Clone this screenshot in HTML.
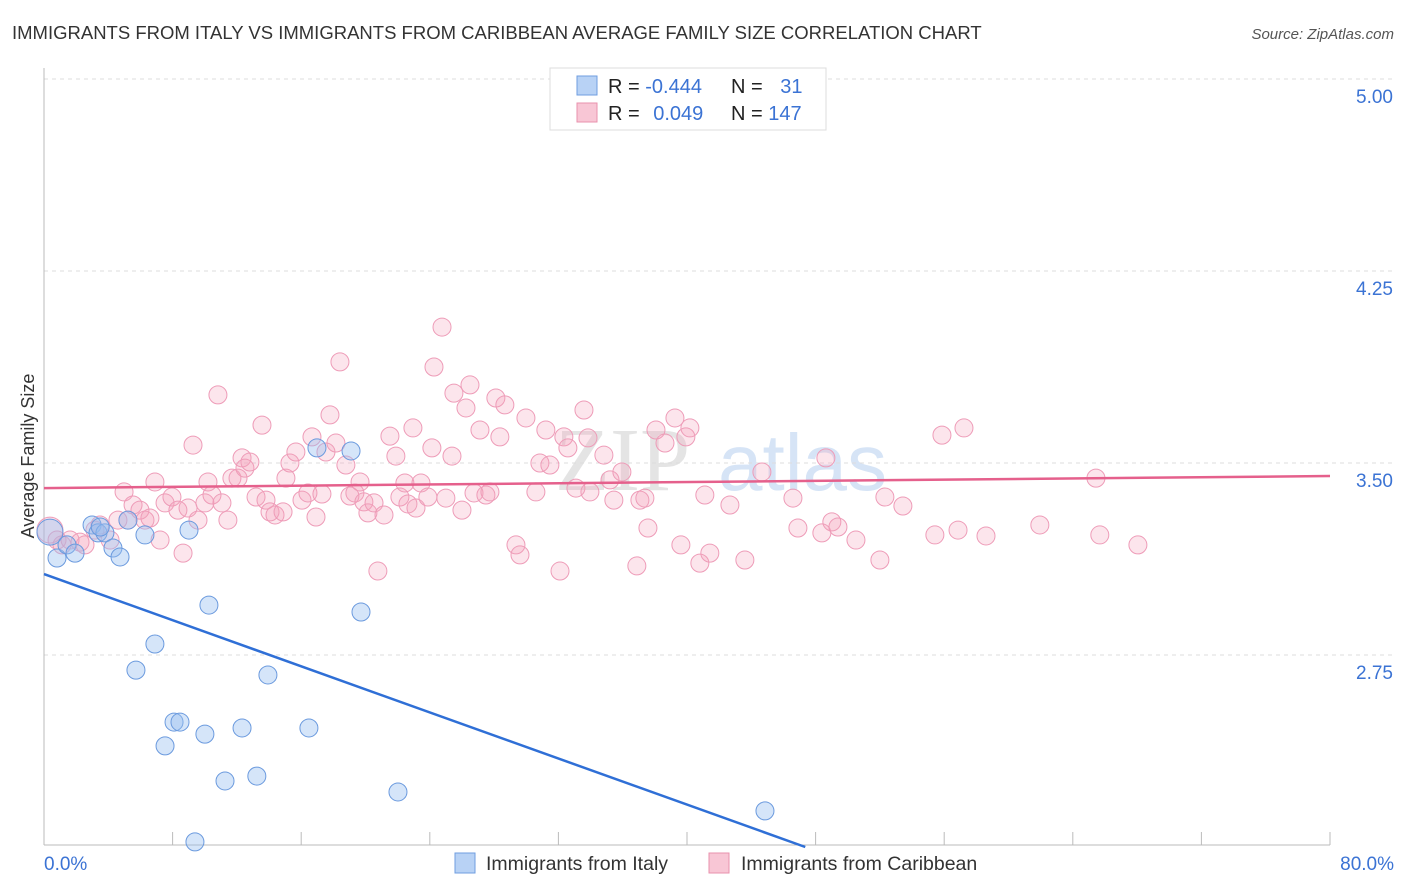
<!DOCTYPE html>
<html><head><meta charset="utf-8"><style>
body{margin:0;background:#fff;font-family:"Liberation Sans",sans-serif;}
svg{display:block}
</style></head><body>
<svg id="chart" width="1406" height="892" xmlns="http://www.w3.org/2000/svg" font-family="Liberation Sans, sans-serif">
<text x="12" y="39" font-size="18.5" fill="#333">IMMIGRANTS FROM ITALY VS IMMIGRANTS FROM CARIBBEAN AVERAGE FAMILY SIZE CORRELATION CHART</text>
<text x="1394" y="39" font-size="15" fill="#555" font-style="italic" text-anchor="end">Source: ZipAtlas.com</text>
<g>
<text x="555" y="490" font-size="90" font-family="Liberation Serif, serif" fill="#e4e4e4">ZIP</text>
<text x="718" y="490" font-size="80" fill="#d6e4f6">atlas</text>
</g>
<g id="grid"></g>
<g id="axes"></g>
<g id="pts"></g>
<g id="trends"></g>
<text transform="translate(34,456) rotate(-90)" font-size="18" fill="#333" text-anchor="middle">Average Family Size</text>
<g>
<rect x="550" y="68" width="276" height="62" fill="#fff" stroke="#ddd"/>
<rect x="577" y="76" width="20" height="19" fill="#b8d2f5" stroke="#6f9ee0"/>
<rect x="577" y="103" width="20" height="19" fill="#f8c6d5" stroke="#e991ad"/>
<text x="608" y="93" font-size="20" fill="#222">R = <tspan fill="#3b73d4">-0.444</tspan></text>
<text x="731" y="93" font-size="20" fill="#222">N = <tspan fill="#3b73d4" dx="12">31</tspan></text>
<text x="608" y="120" font-size="20" fill="#222">R = <tspan fill="#3b73d4" dx="8">0.049</tspan></text>
<text x="731" y="120" font-size="20" fill="#222">N = <tspan fill="#3b73d4">147</tspan></text>
</g>
<g>
<rect x="455" y="853" width="20" height="20" fill="#b8d2f5" stroke="#6f9ee0"/>
<text x="486" y="870" font-size="19.5" fill="#333">Immigrants from Italy</text>
<rect x="709" y="853" width="20" height="20" fill="#f8c6d5" stroke="#e991ad"/>
<text x="741" y="870" font-size="19.5" fill="#333">Immigrants from Caribbean</text>
</g>
</svg>
<script>
const yTicks=[2.75,3.50,4.25,5.00];
const yTickLabels=["2.75","3.50","4.25","5.00"];
const xTickLabels=["0.0%","80.0%"];
const pinkX=[0.37,0.81,1.12,1.62,2.24,2.55,3.17,3.48,4.11,4.60,4.98,5.22,5.54,5.97,6.28,6.59,6.90,7.22,7.53,7.96,8.33,8.65,8.96,9.27,9.58,10.01,10.20,10.45,10.82,11.07,11.44,11.69,12.07,12.32,12.50,12.81,13.19,13.56,13.81,14.06,14.37,14.87,15.05,15.30,15.67,16.05,16.42,16.67,16.92,17.29,17.54,17.79,18.16,18.41,18.78,19.03,19.34,19.66,19.90,20.15,20.53,20.77,21.15,21.52,21.89,22.14,22.45,22.64,22.95,23.14,23.45,23.88,24.13,24.26,24.76,25.00,25.38,25.50,26.00,26.25,26.50,26.75,27.12,27.49,27.74,28.11,28.36,28.67,29.36,29.61,29.98,30.60,30.85,31.22,31.47,32.10,32.34,32.59,33.09,33.59,33.84,33.96,34.83,35.21,35.45,35.95,36.88,37.07,37.38,37.57,38.07,38.63,39.25,39.62,39.93,40.18,40.80,41.11,41.42,42.67,43.60,44.66,46.59,46.90,48.39,48.64,49.01,49.39,50.51,52.00,52.31,53.43,55.42,55.86,56.86,57.23,58.60,61.95,65.44,65.68,68.05];
const pinkY=[3.238,3.199,3.180,3.199,3.191,3.180,3.238,3.258,3.199,3.277,3.387,3.277,3.336,3.316,3.277,3.285,3.426,3.199,3.344,3.367,3.316,3.148,3.324,3.570,3.277,3.344,3.426,3.375,3.766,3.344,3.277,3.441,3.441,3.520,3.480,3.504,3.367,3.648,3.355,3.309,3.297,3.309,3.441,3.500,3.543,3.355,3.383,3.602,3.289,3.379,3.543,3.688,3.578,3.895,3.492,3.371,3.383,3.426,3.348,3.305,3.344,3.078,3.297,3.605,3.527,3.367,3.422,3.340,3.637,3.324,3.422,3.367,3.559,3.875,4.031,3.363,3.527,3.773,3.316,3.715,3.805,3.383,3.629,3.375,3.387,3.754,3.602,3.727,3.180,3.141,3.676,3.387,3.500,3.629,3.492,3.078,3.602,3.559,3.402,3.707,3.598,3.387,3.531,3.434,3.355,3.465,3.098,3.355,3.363,3.246,3.629,3.578,3.676,3.180,3.602,3.637,3.109,3.375,3.148,3.336,3.121,3.465,3.363,3.246,3.227,3.520,3.270,3.250,3.199,3.121,3.367,3.332,3.219,3.609,3.238,3.637,3.215,3.258,3.441,3.219,3.180];
const blueX=[0.37,0.81,1.43,1.93,2.99,3.36,3.79,4.29,4.73,5.22,6.28,5.72,6.90,7.53,8.09,8.46,9.02,9.39,10.01,10.26,11.26,12.32,13.24,13.93,16.48,16.98,19.10,19.72,22.02,44.85,3.50];
const blueY=[3.230,3.129,3.180,3.148,3.258,3.227,3.227,3.168,3.133,3.277,3.219,2.691,2.793,2.395,2.488,2.488,3.238,2.020,2.441,2.945,2.258,2.465,2.277,2.672,2.465,3.559,3.547,2.918,2.215,2.141,3.250];
const pinkTrend=[3.402,3.449];
const blueTrend=[3.066,-0.02251];
const NS="http://www.w3.org/2000/svg";
function xs(v){return 44+v*16.075;}
function ys(v){return 79+(5-v)*256;}
function mk(tag,attrs,parent){const e=document.createElementNS(NS,tag);for(const k in attrs)e.setAttribute(k,attrs[k]);parent.appendChild(e);return e;}
const grid=document.getElementById('grid'),axes=document.getElementById('axes'),pts=document.getElementById('pts'),tr=document.getElementById('trends');
yTicks.forEach((t,i)=>{
 const l=mk('line',{x1:44,x2:1394,y1:ys(t),y2:ys(t),stroke:'#ddd','stroke-dasharray':'4,4'},grid);
 
 
 const tx=mk('text',{x:1393,y:ys(t)+24,'font-size':19,fill:'#3b73d4','text-anchor':'end'},axes);
 tx.textContent=yTickLabels[i];
 
 
});
mk('line',{x1:44,x2:44,y1:68,y2:845,stroke:'#bbb'},axes);
mk('line',{x1:44,x2:1330,y1:845,y2:845,stroke:'#bbb'},axes);
for(let i=0;i<=10;i++){const t=mk('line',{x1:xs(i*8),x2:xs(i*8),y1:832,y2:845,stroke:'#bbb'},axes);
 
 }
[[0,'start',44],[80,'end',1394]].forEach((d,i)=>{const t=mk('text',{x:d[2],y:870,'font-size':19,fill:'#3b73d4','text-anchor':d[1]},axes);t.textContent=xTickLabels[i];
 
 });
pinkX.forEach((x,i)=>{const c=mk('circle',{cx:xs(x),cy:ys(pinkY[i]),r:i===0?13:9,fill:'rgba(244,160,185,0.28)',stroke:'#ee9cb8','stroke-width':1},pts);
 
 });
blueX.forEach((x,i)=>{const c=mk('circle',{cx:xs(x),cy:ys(blueY[i]),r:i===0?13:9,fill:'rgba(150,190,240,0.4)',stroke:'#6b9ade','stroke-width':1},pts);
 
 });
const pl=mk('line',{x1:xs(0),y1:ys(pinkTrend[0]),x2:xs(80),y2:ys(pinkTrend[1]),stroke:'#e5608c','stroke-width':2.5},tr);


const xEnd=(2.0-blueTrend[0])/blueTrend[1];
const bl=mk('line',{x1:xs(0),y1:ys(blueTrend[0]),x2:xs(xEnd),y2:ys(blueTrend[0]+blueTrend[1]*xEnd),stroke:'#2f6fd6','stroke-width':2.5},tr);


</script>
</body></html>
